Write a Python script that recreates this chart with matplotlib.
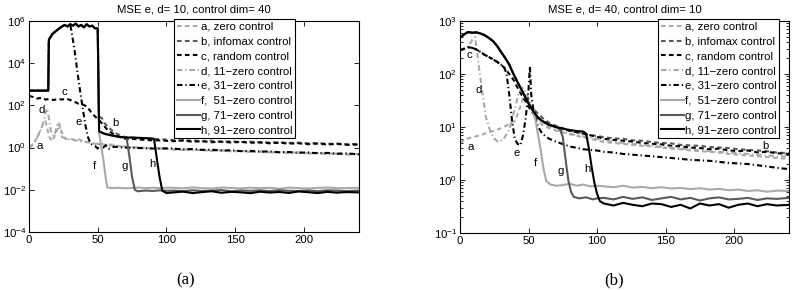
import matplotlib
matplotlib.use("Agg")
import matplotlib.pyplot as plt
from matplotlib.ticker import LogLocator, NullLocator, NullFormatter

plt.rcParams['font.family'] = ['Liberation Sans', 'DejaVu Sans']
plt.rcParams['mathtext.fontset'] = 'custom'
plt.rcParams['mathtext.rm'] = 'Liberation Sans'
plt.rcParams['font.size'] = 8.2

labels = ["a, zero control", "b, infomax control", "c, random control",
          "d, 11\u2212zero control", "e, 31\u2212zero control",
          "f,  51\u2212zero control", "g, 71\u2212zero control", "h, 91\u2212zero control"]

tail_x = [105, 112, 119, 126, 133, 140, 147, 154, 161, 168, 175, 182, 189, 196, 203, 210, 217, 224, 231, 240]

# ---------------- panel (a): d=10, control dim=40
high_a_x = [0, 14, 14.5, 17, 20, 23, 26, 28, 30, 32, 34, 36, 38, 40, 42, 44, 46, 48, 50]
high_a_y = [500, 500, 1.3e5, 2.4e5, 3.5e5, 5.0e5, 6.5e5, 5.5e5, 7.0e5, 6.0e5, 7.5e5, 5.5e5, 6.5e5, 5.0e5, 7.0e5, 5.5e5, 6.0e5, 4.5e5, 4.5e5]

a1_x = [0, 2, 4, 6, 8, 10, 12, 13, 14, 15, 17, 19, 21, 22, 23, 25, 27, 30, 33, 36, 40, 44, 48, 52, 56, 60, 65, 70, 75, 80, 85, 90, 95, 100]
a1_y = [1.0, 1.2, 1.8, 3, 6, 12, 18, 10, 5, 3, 2, 4, 8, 14, 8, 3.5, 2.5, 2.8, 2.2, 2.5, 1.9, 1.8, 1.5, 1.6, 1.3, 1.4, 1.2, 1.1, 1.05, 1.0, 0.95, 0.97, 0.9, 0.88]
a1_tail = [0.85, 0.78, 0.82, 0.75, 0.72, 0.76, 0.68, 0.70, 0.64, 0.66, 0.60, 0.63, 0.57, 0.60, 0.54, 0.56, 0.51, 0.53, 0.48, 0.50]

b1_x = [51, 53, 55, 58, 61, 64, 67, 70, 75, 80, 85, 90, 95, 100]
b1_y = [30, 25, 14, 9, 6, 4.5, 3.5, 3.2, 3.0, 2.8, 2.7, 2.6, 2.5, 2.4]
b1_tail = [2.3, 2.1, 2.2, 2.0, 2.1, 1.9, 2.0, 1.85, 1.9, 1.8, 1.75, 1.8, 1.65, 1.7, 1.6, 1.65, 1.5, 1.55, 1.45, 1.5]

c1_x = [0, 3, 6, 9, 12, 15, 18, 21, 24, 27, 30, 33, 36, 39, 42, 45, 48, 51, 54, 57, 60, 64, 68, 72, 76, 80, 85, 90, 95, 100]
c1_y = [280, 250, 210, 230, 190, 200, 180, 200, 190, 210, 180, 150, 120, 110, 90, 50, 30, 20, 12, 7, 5, 3.5, 2.8, 2.5, 2.6, 2.4, 2.3, 2.2, 2.2, 2.1]
c1_tail = [2.0, 2.2, 1.9, 2.0, 1.8, 1.9, 1.75, 1.85, 1.7, 1.75, 1.6, 1.7, 1.55, 1.6, 1.45, 1.55, 1.4, 1.5, 1.35, 1.4]

d1_x = [0, 3, 6, 9, 11, 12, 13, 14, 15, 16, 17, 18, 19, 20, 21, 22, 23, 24, 26, 28, 31, 34, 37, 40, 45, 50, 55, 60, 70, 80, 90, 100]
d1_y = [1.0, 1.5, 3, 8, 20, 45, 70, 40, 15, 6, 4, 3.5, 5, 9, 15, 12, 6, 3.2, 2.8, 2.4, 2.6, 2.2, 2.0, 1.9, 1.7, 1.5, 1.3, 1.25, 1.1, 1.0, 0.92, 0.88]
d1_tail = [0.8, 0.84, 0.76, 0.78, 0.70, 0.74, 0.66, 0.69, 0.62, 0.65, 0.58, 0.61, 0.55, 0.58, 0.52, 0.55, 0.49, 0.52, 0.47, 0.49]

e1_x = [31, 33, 35, 37, 39, 41, 43, 45, 48, 50, 52, 54, 56, 58, 62, 70, 80, 90, 100]
e1_y = [3e5, 5e4, 5e3, 600, 80, 12, 3, 1.5, 1.2, 0.9, 1.4, 1.0, 1.3, 0.9, 1.1, 1.0, 0.95, 0.9, 0.92]
e1_tail = [0.9, 0.82, 0.86, 0.78, 0.80, 0.72, 0.75, 0.68, 0.70, 0.64, 0.66, 0.60, 0.62, 0.57, 0.59, 0.54, 0.56, 0.51, 0.53, 0.48]

f1_x = [51, 52, 54, 56, 57, 60, 65, 70, 75, 80, 85, 90, 95, 100]
f1_y = [5, 2, 0.3, 0.03, 0.013, 0.012, 0.0125, 0.0118, 0.0122, 0.0128, 0.0119, 0.0124, 0.0121, 0.0126]
f1_tail = [0.0125, 0.0118, 0.0130, 0.0121, 0.0115, 0.0128, 0.0122, 0.0117, 0.0126, 0.0119, 0.0124, 0.0113, 0.0127, 0.0120, 0.0116, 0.0123, 0.0129, 0.0118, 0.0121, 0.0125]

flat_a_x = [51, 52, 55, 60, 65, 70]
flat_a_y = [6, 5.5, 4.5, 3.8, 3.3, 3.0]

g1_x = [71, 73, 75, 77, 79, 85, 90, 95, 100]
g1_y = [2.9, 0.4, 0.04, 0.01, 0.0085, 0.0092, 0.0088, 0.0094, 0.009]
g1_tail = [0.0092, 0.0086, 0.0095, 0.0088, 0.0091, 0.0097, 0.0085, 0.0093, 0.0089, 0.0094, 0.0087, 0.0096, 0.0090, 0.0088, 0.0093, 0.0086, 0.0095, 0.0091, 0.0087, 0.0092]

h1_x = [75, 80, 85, 90, 91, 93, 95, 97, 100]
h1_y = [3.0, 2.9, 2.8, 2.7, 2.5, 0.3, 0.04, 0.009, 0.007]
h1_tail = [0.0075, 0.0082, 0.0070, 0.0078, 0.0085, 0.0072, 0.0080, 0.0076, 0.0069, 0.0081, 0.0074, 0.0079, 0.0071, 0.0083, 0.0077, 0.0070, 0.0080, 0.0073, 0.0078, 0.0075]

# ---------------- panel (b): d=40, control dim=10
high_b_x = [0, 3, 6, 9, 12, 15, 18, 21, 24, 27, 30, 33, 36, 39, 42, 45, 48, 51]
high_b_y = [480, 560, 620, 600, 610, 580, 540, 480, 420, 340, 260, 200, 150, 100, 70, 50, 35, 25]
mid_b_x = [54, 57, 60, 65, 70]
mid_b_y = [19, 15, 13, 11, 10]

a2_x = [0, 5, 10, 15, 20, 25, 30, 35, 40, 43, 46, 48, 50, 53, 56, 60, 65, 70, 80, 90, 100]
a2_y = [5, 6, 6.5, 7, 7.8, 8.5, 9.5, 11, 13, 20, 35, 40, 30, 20, 14, 11, 9.5, 8.5, 7.3, 6.4, 5.6]
a2_tail = [5.2, 5.0, 4.8, 4.6, 4.4, 4.3, 4.1, 3.9, 3.8, 3.6, 3.5, 3.4, 3.3, 3.1, 3.0, 2.9, 2.8, 2.7, 2.6, 2.5]

b2_x = [55, 60, 65, 70, 75, 80, 85, 90, 95, 100]
b2_y = [20, 15, 12, 10.5, 9.5, 8.5, 8, 7.5, 7, 6.8]
b2_tail = [6.4, 6.1, 6.0, 5.6, 5.5, 5.2, 5.0, 4.9, 4.6, 4.5, 4.4, 4.2, 4.1, 4.0, 3.8, 3.7, 3.6, 3.5, 3.3, 3.2]

c2_x = [0, 3, 6, 9, 12, 15, 18, 21, 24, 27, 30, 33, 36, 39, 42, 45, 48, 51, 55, 60, 65, 70, 80, 90, 100]
c2_y = [280, 300, 320, 310, 290, 260, 230, 210, 190, 170, 150, 125, 100, 78, 55, 40, 30, 22, 16, 13, 11, 10, 8.5, 7.5, 6.5]
c2_tail = [6.0, 5.7, 5.5, 5.3, 5.0, 4.8, 4.7, 4.4, 4.3, 4.1, 4.0, 3.8, 3.9, 3.6, 3.5, 3.6, 3.3, 3.4, 3.2, 3.1]

d2_x = [0, 5, 9, 11, 13, 16, 19, 22, 25, 28, 32, 36, 40, 43, 46, 50, 55, 60, 70, 80, 90, 100]
d2_y = [280, 300, 440, 500, 200, 50, 15, 8.5, 6, 5.2, 6, 9, 22, 45, 55, 35, 18, 12, 9, 7.5, 6.6, 6]
d2_tail = [5.6, 5.3, 5.0, 4.8, 4.6, 4.5, 4.2, 4.1, 3.9, 3.8, 3.6, 3.5, 3.4, 3.3, 3.2, 3.1, 3.0, 2.9, 2.8, 2.8]

e2_x = [32, 34, 36, 38, 40, 42, 44, 46, 48, 50, 51, 52, 54, 57, 60, 65, 70, 80, 90, 100]
e2_y = [140, 100, 40, 13, 6, 4.8, 4.5, 7, 15, 50, 140, 40, 18, 10, 7.5, 6, 5.3, 4.3, 3.8, 3.6]
e2_tail = [3.4, 3.3, 3.1, 3.0, 2.9, 2.8, 2.7, 2.6, 2.5, 2.4, 2.35, 2.3, 2.2, 2.1, 2.05, 2.0, 1.9, 1.8, 1.7, 1.6]

f2_x = [53, 55, 57, 59, 61, 63, 66, 70, 75, 80, 85, 90, 95, 100]
f2_y = [20, 14, 7, 3.5, 1.6, 0.95, 0.82, 0.78, 0.8, 0.85, 0.78, 0.82, 0.76, 0.78]
f2_tail = [0.76, 0.73, 0.78, 0.72, 0.74, 0.70, 0.73, 0.69, 0.71, 0.67, 0.70, 0.66, 0.68, 0.64, 0.66, 0.62, 0.64, 0.60, 0.63, 0.62]

g2_x = [73, 75, 77, 79, 81, 83, 87, 92, 97, 100]
g2_y = [9, 6.5, 2.5, 1.0, 0.6, 0.48, 0.45, 0.47, 0.43, 0.45]
g2_tail = [0.46, 0.43, 0.48, 0.44, 0.47, 0.42, 0.45, 0.48, 0.43, 0.46, 0.41, 0.45, 0.47, 0.43, 0.44, 0.46, 0.42, 0.45, 0.44, 0.46]

h2_x = [75, 80, 85, 90, 92, 94, 96, 98, 100, 102]
h2_y = [9.3, 8.8, 8.4, 8.2, 7.5, 4, 1.8, 0.9, 0.55, 0.4]
h2_tail = [0.36, 0.33, 0.37, 0.34, 0.32, 0.36, 0.35, 0.31, 0.34, 0.29, 0.36, 0.33, 0.35, 0.30, 0.34, 0.36, 0.32, 0.35, 0.33, 0.34]

light = '#aaaaaa'
dark = '#5a5a5a'
dash = (0, (2.2, 1.6))
dashdot = (0, (2.6, 1.4, 0.6, 1.4))
styles = [(light, dash), (dark, dash), ('black', dash), (light, dashdot),
          ('black', dashdot), (light, '-'), (dark, '-'), ('black', '-')]

panel_a = [
    (a1_x + tail_x, a1_y + a1_tail),
    (high_a_x + b1_x + tail_x, high_a_y + b1_y + b1_tail),
    (c1_x + tail_x, c1_y + c1_tail),
    (d1_x + tail_x, d1_y + d1_tail),
    (high_a_x[:9] + e1_x + tail_x, high_a_y[:9] + e1_y + e1_tail),
    (high_a_x + f1_x + tail_x, high_a_y + f1_y + f1_tail),
    (high_a_x + flat_a_x + g1_x + tail_x, high_a_y + flat_a_y + g1_y + g1_tail),
    (high_a_x + flat_a_x + h1_x + tail_x, high_a_y + flat_a_y + h1_y + h1_tail),
]
panel_b = [
    (a2_x + tail_x, a2_y + a2_tail),
    (high_b_x + b2_x + tail_x, high_b_y + b2_y + b2_tail),
    (c2_x + tail_x, c2_y + c2_tail),
    (d2_x + tail_x, d2_y + d2_tail),
    (c2_x[:11] + e2_x + tail_x, c2_y[:11] + e2_y + e2_tail),
    (high_b_x + f2_x + tail_x, high_b_y + f2_y + f2_tail),
    (high_b_x + mid_b_x + g2_x + tail_x, high_b_y + mid_b_y + g2_y + g2_tail),
    (high_b_x + mid_b_x + h2_x + tail_x, high_b_y + mid_b_y + h2_y + h2_tail),
]

letters_a = [("a", 7.5, 1.2), ("b", 63, 14), ("c", 26, 440), ("d", 9.5, 63),
             ("e", 36, 16), ("f", 47.5, 0.135), ("g", 69.5, 0.135), ("h", 89.5, 0.16)]
letters_b = [("a", 8, 4.2), ("b", 223, 4.4), ("c", 6.5, 230), ("d", 14, 50),
             ("e", 41.5, 3.2), ("f", 55, 2.1), ("g", 73.5, 1.5), ("h", 93, 1.6)]

fig = plt.figure(figsize=(7.98, 2.90), dpi=100)
ax1 = fig.add_axes([0.0363, 0.2, 0.4135, 0.7276])
ax2 = fig.add_axes([0.5764, 0.1966, 0.4123, 0.731])

for ax, series, letters, title, ylim, legx in [
        (ax1, panel_a, letters_a, 'MSE e, d= 10, control dim= 40', (1e-4, 1e6), 174),
        (ax2, panel_b, letters_b, 'MSE e, d= 40, control dim= 10', (1e-1, 1e3), 658)]:
    for (xs, ys), (col, ls), lab in zip(series, styles, labels):
        ax.plot(xs, ys, color=col, linestyle=ls, lw=1.5, label=lab)
    ax.set_yscale('log')
    ax.set_xlim(0, 240)
    ax.set_ylim(*ylim)
    ax.set_xticks([0, 50, 100, 150, 200])
    ax.tick_params(which='both', direction='in', top=True, right=True, width=0.6)
    ax.tick_params(which='major', length=3.5, labelsize=8.2, pad=2)
    ax.tick_params(which='minor', length=2)
    for s in ax.spines.values():
        s.set_linewidth(0.8)
    ax.set_title(title, fontsize=8.2, pad=6)
    for t, x, y in letters:
        ax.text(x, y, t, fontsize=8.2, ha='center', va='center')
    leg = ax.legend(loc='upper left', bbox_to_anchor=(legx / 798, 1 - 19 / 290),
                    bbox_transform=fig.transFigure, fontsize=8.2, frameon=True,
                    fancybox=False, framealpha=1, edgecolor='black', borderaxespad=0,
                    borderpad=0.25, handlelength=2.0, handletextpad=0.1, labelspacing=0.42)
    leg.get_frame().set_linewidth(0.8)

ax1.set_yticks([1e-4, 1e-2, 1, 1e2, 1e4, 1e6])
ax1.yaxis.set_minor_locator(NullLocator())
ax2.set_yticks([1e-1, 1, 10, 100, 1000])
ax2.yaxis.set_minor_locator(LogLocator(base=10, subs=range(2, 10)))
ax2.yaxis.set_minor_formatter(NullFormatter())

fig.text(186 / 798, 1 - 280 / 290, '(a)', family=['Liberation Serif'], fontsize=12, ha='center', va='center')
fig.text(614 / 798, 1 - 280 / 290, '(b)', family=['Liberation Serif'], fontsize=12, ha='center', va='center')

fig.savefig('out.png', dpi=100)
